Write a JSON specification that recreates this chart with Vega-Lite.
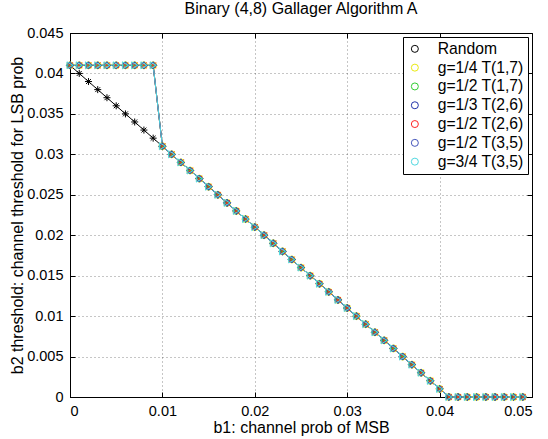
{
  "$schema": "https://vega.github.io/schema/vega-lite/v6.json",
  "width": 462,
  "height": 364,
  "autosize": "none",
  "padding": {"left": 70, "top": 33, "right": 16, "bottom": 42},
  "background": "white",
  "title": {"text": "Binary (4,8) Gallager Algorithm A", "font": "Liberation Sans", "fontSize": 16, "fontWeight": "normal", "color": "black", "anchor": "middle", "offset": 8},
  "datasets": {
    "curves": [
      {"x": 0.000, "s1": 0.041, "s2": 0.041, "s3": 0.041, "s4": 0.041, "s5": 0.041, "s6": 0.041, "s7": 0.041},
      {"x": 0.001, "s1": 0.040, "s2": 0.041, "s3": 0.041, "s4": 0.041, "s5": 0.041, "s6": 0.041, "s7": 0.041},
      {"x": 0.002, "s1": 0.039, "s2": 0.041, "s3": 0.041, "s4": 0.041, "s5": 0.041, "s6": 0.041, "s7": 0.041},
      {"x": 0.003, "s1": 0.038, "s2": 0.041, "s3": 0.041, "s4": 0.041, "s5": 0.041, "s6": 0.041, "s7": 0.041},
      {"x": 0.004, "s1": 0.037, "s2": 0.041, "s3": 0.041, "s4": 0.041, "s5": 0.041, "s6": 0.041, "s7": 0.041},
      {"x": 0.005, "s1": 0.036, "s2": 0.041, "s3": 0.041, "s4": 0.041, "s5": 0.041, "s6": 0.041, "s7": 0.041},
      {"x": 0.006, "s1": 0.035, "s2": 0.041, "s3": 0.041, "s4": 0.041, "s5": 0.041, "s6": 0.041, "s7": 0.041},
      {"x": 0.007, "s1": 0.034, "s2": 0.041, "s3": 0.041, "s4": 0.041, "s5": 0.041, "s6": 0.041, "s7": 0.041},
      {"x": 0.008, "s1": 0.033, "s2": 0.041, "s3": 0.041, "s4": 0.041, "s5": 0.041, "s6": 0.041, "s7": 0.041},
      {"x": 0.009, "s1": 0.032, "s2": 0.041, "s3": 0.041, "s4": 0.041, "s5": 0.041, "s6": 0.041, "s7": 0.041},
      {"x": 0.010, "s1": 0.031, "s2": 0.031, "s3": 0.031, "s4": 0.031, "s5": 0.031, "s6": 0.031, "s7": 0.031},
      {"x": 0.011, "s1": 0.030, "s2": 0.030, "s3": 0.030, "s4": 0.030, "s5": 0.030, "s6": 0.030, "s7": 0.030},
      {"x": 0.012, "s1": 0.029, "s2": 0.029, "s3": 0.029, "s4": 0.029, "s5": 0.029, "s6": 0.029, "s7": 0.029},
      {"x": 0.013, "s1": 0.028, "s2": 0.028, "s3": 0.028, "s4": 0.028, "s5": 0.028, "s6": 0.028, "s7": 0.028},
      {"x": 0.014, "s1": 0.027, "s2": 0.027, "s3": 0.027, "s4": 0.027, "s5": 0.027, "s6": 0.027, "s7": 0.027},
      {"x": 0.015, "s1": 0.026, "s2": 0.026, "s3": 0.026, "s4": 0.026, "s5": 0.026, "s6": 0.026, "s7": 0.026},
      {"x": 0.016, "s1": 0.025, "s2": 0.025, "s3": 0.025, "s4": 0.025, "s5": 0.025, "s6": 0.025, "s7": 0.025},
      {"x": 0.017, "s1": 0.024, "s2": 0.024, "s3": 0.024, "s4": 0.024, "s5": 0.024, "s6": 0.024, "s7": 0.024},
      {"x": 0.018, "s1": 0.023, "s2": 0.023, "s3": 0.023, "s4": 0.023, "s5": 0.023, "s6": 0.023, "s7": 0.023},
      {"x": 0.019, "s1": 0.022, "s2": 0.022, "s3": 0.022, "s4": 0.022, "s5": 0.022, "s6": 0.022, "s7": 0.022},
      {"x": 0.020, "s1": 0.021, "s2": 0.021, "s3": 0.021, "s4": 0.021, "s5": 0.021, "s6": 0.021, "s7": 0.021},
      {"x": 0.021, "s1": 0.020, "s2": 0.020, "s3": 0.020, "s4": 0.020, "s5": 0.020, "s6": 0.020, "s7": 0.020},
      {"x": 0.022, "s1": 0.019, "s2": 0.019, "s3": 0.019, "s4": 0.019, "s5": 0.019, "s6": 0.019, "s7": 0.019},
      {"x": 0.023, "s1": 0.018, "s2": 0.018, "s3": 0.018, "s4": 0.018, "s5": 0.018, "s6": 0.018, "s7": 0.018},
      {"x": 0.024, "s1": 0.017, "s2": 0.017, "s3": 0.017, "s4": 0.017, "s5": 0.017, "s6": 0.017, "s7": 0.017},
      {"x": 0.025, "s1": 0.016, "s2": 0.016, "s3": 0.016, "s4": 0.016, "s5": 0.016, "s6": 0.016, "s7": 0.016},
      {"x": 0.026, "s1": 0.015, "s2": 0.015, "s3": 0.015, "s4": 0.015, "s5": 0.015, "s6": 0.015, "s7": 0.015},
      {"x": 0.027, "s1": 0.014, "s2": 0.014, "s3": 0.014, "s4": 0.014, "s5": 0.014, "s6": 0.014, "s7": 0.014},
      {"x": 0.028, "s1": 0.013, "s2": 0.013, "s3": 0.013, "s4": 0.013, "s5": 0.013, "s6": 0.013, "s7": 0.013},
      {"x": 0.029, "s1": 0.012, "s2": 0.012, "s3": 0.012, "s4": 0.012, "s5": 0.012, "s6": 0.012, "s7": 0.012},
      {"x": 0.030, "s1": 0.011, "s2": 0.011, "s3": 0.011, "s4": 0.011, "s5": 0.011, "s6": 0.011, "s7": 0.011},
      {"x": 0.031, "s1": 0.010, "s2": 0.010, "s3": 0.010, "s4": 0.010, "s5": 0.010, "s6": 0.010, "s7": 0.010},
      {"x": 0.032, "s1": 0.009, "s2": 0.009, "s3": 0.009, "s4": 0.009, "s5": 0.009, "s6": 0.009, "s7": 0.009},
      {"x": 0.033, "s1": 0.008, "s2": 0.008, "s3": 0.008, "s4": 0.008, "s5": 0.008, "s6": 0.008, "s7": 0.008},
      {"x": 0.034, "s1": 0.007, "s2": 0.007, "s3": 0.007, "s4": 0.007, "s5": 0.007, "s6": 0.007, "s7": 0.007},
      {"x": 0.035, "s1": 0.006, "s2": 0.006, "s3": 0.006, "s4": 0.006, "s5": 0.006, "s6": 0.006, "s7": 0.006},
      {"x": 0.036, "s1": 0.005, "s2": 0.005, "s3": 0.005, "s4": 0.005, "s5": 0.005, "s6": 0.005, "s7": 0.005},
      {"x": 0.037, "s1": 0.004, "s2": 0.004, "s3": 0.004, "s4": 0.004, "s5": 0.004, "s6": 0.004, "s7": 0.004},
      {"x": 0.038, "s1": 0.003, "s2": 0.003, "s3": 0.003, "s4": 0.003, "s5": 0.003, "s6": 0.003, "s7": 0.003},
      {"x": 0.039, "s1": 0.002, "s2": 0.002, "s3": 0.002, "s4": 0.002, "s5": 0.002, "s6": 0.002, "s7": 0.002},
      {"x": 0.040, "s1": 0.001, "s2": 0.001, "s3": 0.001, "s4": 0.001, "s5": 0.001, "s6": 0.001, "s7": 0.001},
      {"x": 0.041, "s1": 0, "s2": 0, "s3": 0, "s4": 0, "s5": 0, "s6": 0, "s7": 0},
      {"x": 0.042, "s1": 0, "s2": 0, "s3": 0, "s4": 0, "s5": 0, "s6": 0, "s7": 0},
      {"x": 0.043, "s1": 0, "s2": 0, "s3": 0, "s4": 0, "s5": 0, "s6": 0, "s7": 0},
      {"x": 0.044, "s1": 0, "s2": 0, "s3": 0, "s4": 0, "s5": 0, "s6": 0, "s7": 0},
      {"x": 0.045, "s1": 0, "s2": 0, "s3": 0, "s4": 0, "s5": 0, "s6": 0, "s7": 0},
      {"x": 0.046, "s1": 0, "s2": 0, "s3": 0, "s4": 0, "s5": 0, "s6": 0, "s7": 0},
      {"x": 0.047, "s1": 0, "s2": 0, "s3": 0, "s4": 0, "s5": 0, "s6": 0, "s7": 0},
      {"x": 0.048, "s1": 0, "s2": 0, "s3": 0, "s4": 0, "s5": 0, "s6": 0, "s7": 0},
      {"x": 0.049, "s1": 0, "s2": 0, "s3": 0, "s4": 0, "s5": 0, "s6": 0, "s7": 0}
    ],
    "names": [
      {"key": "s1", "series": "Random"},
      {"key": "s2", "series": "g=1/4 T(1,7)"},
      {"key": "s3", "series": "g=1/2 T(1,7)"},
      {"key": "s4", "series": "g=1/3 T(2,6)"},
      {"key": "s5", "series": "g=1/2 T(2,6)"},
      {"key": "s6", "series": "g=1/2 T(3,5)"},
      {"key": "s7", "series": "g=3/4 T(3,5)"}
    ]
  },
  "data": {"name": "curves"},
  "transform": [
    {"fold": ["s1", "s2", "s3", "s4", "s5", "s6", "s7"], "as": ["key", "y"]},
    {"lookup": "key", "from": {"data": {"name": "names"}, "key": "key", "fields": ["series"]}}
  ],
  "config": {
    "view": {"stroke": "black", "strokeWidth": 1},
    "axis": {
      "domainColor": "black", "domainWidth": 1,
      "tickColor": "black", "tickSize": -5, "tickWidth": 1,
      "labelColor": "black", "labelFont": "Liberation Sans", "labelFontSize": 14.5, "labelPadding": 12,
      "titleColor": "black", "titleFont": "Liberation Sans", "titleFontSize": 16, "titleFontWeight": "normal",
      "gridColor": "black", "gridDash": [1, 3], "gridOpacity": 0.45, "gridWidth": 1
    },
    "legend": {
      "orient": "top-right", "offset": 4, "title": null,
      "strokeColor": "black", "fillColor": "white", "padding": 4,
      "labelFont": "Liberation Sans", "labelFontSize": 15.7, "labelColor": "black", "labelLimit": 300,
      "rowPadding": 1.8, "symbolOffset": 0, "labelOffset": 15, "symbolStrokeWidth": 1,
      "symbolFillColor": "transparent", "symbolSize": 49, "symbolOpacity": 1
    }
  },
  "resolve": {"axis": {"x": "independent", "y": "independent"}},
  "layer": [
    {
      "mark": {"type": "line", "strokeWidth": 1},
      "encoding": {
        "x": {"field": "x", "type": "quantitative", "scale": {"domain": [0, 0.05], "nice": false, "zero": false},
              "axis": {"values": [0, 0.01, 0.02, 0.03, 0.04, 0.05], "format": "~g", "title": "b1: channel prob of MSB", "titlePadding": 2, "grid": true}},
        "y": {"field": "y", "type": "quantitative", "scale": {"domain": [0, 0.045], "nice": false, "zero": false},
              "axis": {"values": [0, 0.005, 0.01, 0.015, 0.02, 0.025, 0.03, 0.035, 0.04, 0.045], "format": "~g", "title": "b2 threshold: channel threshold for LSB prob", "titlePadding": 1, "grid": true}},
        "stroke": {"field": "key", "type": "nominal",
                  "scale": {"domain": ["s1", "s2", "s3", "s4", "s5", "s6", "s7"],
                            "range": ["#000000", "#eaea10", "#33cc33", "#2233aa", "#ff2222", "#4455bb", "#50d8e0"]},
                  "legend": null}
      }
    },
    {
      "mark": {"type": "point", "filled": false, "size": 49, "strokeWidth": 1, "opacity": 1},
      "encoding": {
        "x": {"field": "x", "type": "quantitative", "axis": null},
        "y": {"field": "y", "type": "quantitative", "axis": null},
        "stroke": {"field": "key", "type": "nominal", "legend": null},
        "shape": {"field": "key", "type": "nominal",
                  "scale": {"domain": ["s1", "s2", "s3", "s4", "s5", "s6", "s7"],
                            "range": ["M-1,0H1M0,-1V1M-0.7,-0.7L0.7,0.7M-0.7,0.7L0.7,-0.7", "circle", "M-1,0H1M0,-1V1", "diamond", "M-0.8,-0.8L0.8,0.8M-0.8,0.8L0.8,-0.8", "diamond", "triangle-right"]},
                  "legend": null}
      }
    },
    {
      "mark": {"type": "point", "filled": false, "size": 49, "strokeWidth": 1, "opacity": 0},
      "encoding": {
        "x": {"field": "x", "type": "quantitative",
              "axis": {"orient": "top", "values": [0, 0.01, 0.02, 0.03, 0.04, 0.05], "labels": false, "title": null, "grid": false, "domain": false}},
        "y": {"field": "y", "type": "quantitative",
              "axis": {"orient": "right", "values": [0, 0.005, 0.01, 0.015, 0.02, 0.025, 0.03, 0.035, 0.04, 0.045], "labels": false, "title": null, "grid": false, "domain": false}},
        "color": {"field": "series", "type": "nominal",
                  "scale": {"domain": ["Random", "g=1/4 T(1,7)", "g=1/2 T(1,7)", "g=1/3 T(2,6)", "g=1/2 T(2,6)", "g=1/2 T(3,5)", "g=3/4 T(3,5)"],
                            "range": ["#000000", "#eaea10", "#33cc33", "#2233aa", "#ff2222", "#4455bb", "#50d8e0"]},
                  "legend": {"title": null}},
        "shape": {"field": "series", "type": "nominal",
                  "scale": {"domain": ["Random", "g=1/4 T(1,7)", "g=1/2 T(1,7)", "g=1/3 T(2,6)", "g=1/2 T(2,6)", "g=1/2 T(3,5)", "g=3/4 T(3,5)"],
                            "range": [
                              "M-4.3,0H4.3M-1,0H1M0,-1V1M-0.7,-0.7L0.7,0.7M-0.7,0.7L0.7,-0.7",
                              "M-4.3,0H-0.9M0.9,0H4.3M0.9,0L0.636,0.636L0,0.9L-0.636,0.636L-0.9,0L-0.636,-0.636L0,-0.9L0.636,-0.636Z",
                              "M-4.3,0H4.3M0,-1V1",
                              "M-4.3,0H-1M1,0H4.3M-1,0L0,-1L1,0L0,1Z",
                              "M-4.3,0H4.3M-0.8,-0.8L0.8,0.8M-0.8,0.8L0.8,-0.8",
                              "M-4.3,0H-1M1,0H4.3M-1,0L0,-1L1,0L0,1Z",
                              "M-4.3,0H-0.8M1,0H4.3M-0.8,-1L1,0L-0.8,1Z"
                            ]},
                  "legend": {"title": null}}
      }
    }
  ]
}
